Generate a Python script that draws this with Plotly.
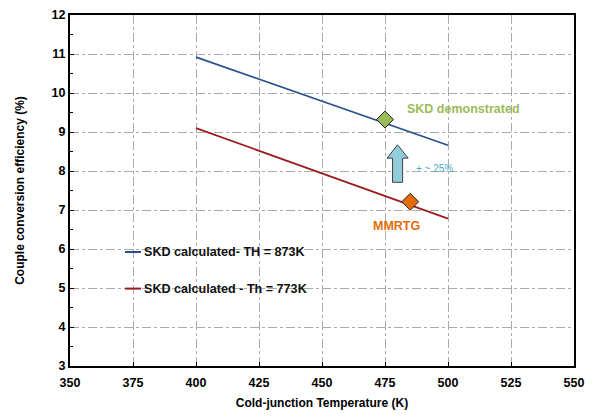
import plotly.graph_objects as go

# ---- data ----
temp_cold = [400, 500]
eff_873 = [10.92, 8.66]
eff_773 = [9.10, 6.78]
series_names = ["SKD calculated- TH = 873K", "SKD calculated - Th = 773K"]

demo_x = [475]
demo_y = [9.32]
mmrtg_x = [485]
mmrtg_y = [7.21]

x_ticks = [350, 375, 400, 425, 450, 475, 500, 525, 550]
y_ticks = [3, 4, 5, 6, 7, 8, 9, 10, 11, 12]

# annotation arrow (data units)
arrow_x = 480
arrow_y0 = 7.71
arrow_head_y = 8.33
arrow_tip_y = 8.67
arrow_shaft_hw = 2.0
arrow_head_hw = 4.2

FONT = "Liberation Sans, Arial, sans-serif"
BLUE = "#2A4F8F"
RED = "#9B1C1F"
colors = [BLUE, RED]

# page body has an 8px margin; figure is offset by it
OFF = 8
FIG_W, FIG_H = 593 - OFF, 417 - OFF
# plot-area geometry in screen pixels
L, R, T, B = 70, 574, 15, 366
W, H = R - L, B - T


def px_x(p):
    return (p - L) / W


def px_y(p):
    return (B - p) / H


fig = go.Figure()
fig.add_trace(go.Scatter(x=temp_cold, y=eff_873, mode="lines", name=series_names[0],
                         line=dict(color=BLUE, width=1.8)))
fig.add_trace(go.Scatter(x=temp_cold, y=eff_773, mode="lines", name=series_names[1],
                         line=dict(color=RED, width=1.8)))
fig.add_trace(go.Scatter(x=demo_x, y=demo_y, mode="markers",
                         marker=dict(symbol="diamond", size=13, color="#9BBB59",
                                     line=dict(color="#222222", width=1))))
fig.add_trace(go.Scatter(x=mmrtg_x, y=mmrtg_y, mode="markers",
                         marker=dict(symbol="diamond", size=13, color="#E36C09",
                                     line=dict(color="#222222", width=1))))

# legend white backing box (covers gridlines)
fig.add_shape(type="rect", xref="paper", yref="paper", layer="between",
              x0=px_x(101), x1=px_x(328), y0=px_y(305), y1=px_y(224),
              fillcolor="white", line=dict(width=0))
# manual legend entries
for i, (name, col) in enumerate(zip(series_names, colors)):
    yy = 252 + i * 36.6
    fig.add_shape(type="line", xref="paper", yref="paper",
                  x0=px_x(125), x1=px_x(141), y0=px_y(yy), y1=px_y(yy),
                  line=dict(color=col, width=2))
    fig.add_annotation(xref="paper", yref="paper", x=px_x(142), y=px_y(yy),
                       xanchor="left", yanchor="middle", showarrow=False,
                       text=f"<b>{name}</b>",
                       font=dict(family=FONT, size=12.6, color="#111111"))

# block arrow
ax = arrow_x
path = (f"M {ax - arrow_shaft_hw},{arrow_y0} L {ax + arrow_shaft_hw},{arrow_y0} "
        f"L {ax + arrow_shaft_hw},{arrow_head_y} L {ax + arrow_head_hw},{arrow_head_y} "
        f"L {ax},{arrow_tip_y} L {ax - arrow_head_hw},{arrow_head_y} "
        f"L {ax - arrow_shaft_hw},{arrow_head_y} Z")
fig.add_shape(type="path", path=path, xref="x", yref="y",
              fillcolor="#92CDDC", line=dict(color="#404040", width=1))

fig.add_annotation(x=506.2, y=9.6, text="<b>SKD demonstrated</b>", showarrow=False,
                   font=dict(family=FONT, size=12.5, color="#9BBB59"))
fig.add_annotation(x=479.4, y=6.6, text="<b>MMRTG</b>", showarrow=False,
                   font=dict(family=FONT, size=12.5, color="#E36C09"))
fig.add_annotation(x=486.5, y=8.06, text="+ ~ 25%", showarrow=False, xanchor="left",
                   font=dict(family=FONT, size=10, color="#4BACC6"))

fig.update_layout(
    width=FIG_W, height=FIG_H,
    margin=dict(l=L - OFF, r=FIG_W - (R - OFF), t=T - OFF, b=FIG_H - (B - OFF),
                autoexpand=False),
    paper_bgcolor="white", plot_bgcolor="white",
    font=dict(family=FONT, color="black"),
    showlegend=False,
    xaxis=dict(range=[350, 550], tickvals=x_ticks, ticktext=[f"<b>{v}</b>" for v in x_ticks],
               automargin=False, ticklabelstandoff=4,
               showline=True, linecolor="black", linewidth=2, mirror=True,
               ticks="inside", ticklen=4, tickcolor="black",
               showgrid=True, gridcolor="#ABABAB", griddash="dashdot", gridwidth=1,
               zeroline=False, tickfont=dict(family=FONT, size=12.5),
               title=dict(text="<b>Cold-junction Temperature (K)</b>", standoff=10,
                          font=dict(family=FONT, size=12))),
    yaxis=dict(range=[3, 12], tickvals=y_ticks, ticktext=[f"<b>{v}</b>" for v in y_ticks],
               automargin=False,
               showline=True, linecolor="black", linewidth=2, mirror=True,
               ticks="inside", ticklen=4, tickcolor="black",
               minor=dict(dtick=0.5, ticks="inside", ticklen=3, tickcolor="black", showgrid=False),
               showgrid=True, gridcolor="#ABABAB", griddash="dashdot", gridwidth=1,
               zeroline=False, tickfont=dict(family=FONT, size=12.5),
               title=dict(text="<b>Couple conversion efficiency (%)</b>", standoff=24,
                          font=dict(family=FONT, size=12))),
)

fig.write_html("out.html")
